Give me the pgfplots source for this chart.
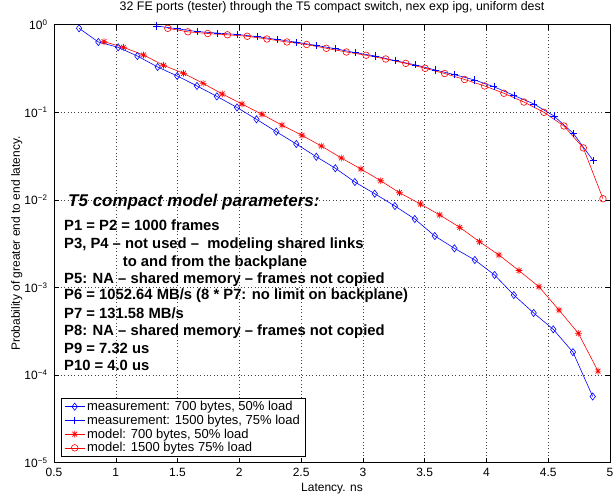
\documentclass[border=0pt]{standalone}
\usepackage{fontspec}
\setmainfont{Liberation Sans}
\setsansfont{Liberation Sans}
\usepackage{pgfplots}
\pgfplotsset{compat=1.18}
\pgfdeclareplotmark{mstar}{%
 \pgfpathmoveto{\pgfqpoint{-\pgfplotmarksize}{0pt}}\pgfpathlineto{\pgfqpoint{\pgfplotmarksize}{0pt}}%
 \pgfpathmoveto{\pgfqpoint{0pt}{-\pgfplotmarksize}}\pgfpathlineto{\pgfqpoint{0pt}{\pgfplotmarksize}}%
 \pgfpathmoveto{\pgfqpoint{-0.707\pgfplotmarksize}{-0.707\pgfplotmarksize}}\pgfpathlineto{\pgfqpoint{0.707\pgfplotmarksize}{0.707\pgfplotmarksize}}%
 \pgfpathmoveto{\pgfqpoint{-0.707\pgfplotmarksize}{0.707\pgfplotmarksize}}\pgfpathlineto{\pgfqpoint{0.707\pgfplotmarksize}{-0.707\pgfplotmarksize}}%
 \pgfusepathqstroke}
\begin{document}
\begin{tikzpicture}
\begin{axis}[
  at={(0pt,0pt)}, anchor=south west,
  scale only axis, width=556pt, height=438pt,
  xmin=0.5, xmax=5, ymin=1e-5, ymax=1,
  ymode=log, log basis y=10,
  xtick={0.5,1,1.5,2,2.5,3,3.5,4,4.5,5},
  xticklabels={0.5,1,1.5,2,2.5,3,3.5,4,4.5,5},
  ytick={1e-5,1e-4,1e-3,1e-2,1e-1,1},
  yticklabels={10\textsuperscript{−5},10\textsuperscript{−4},10\textsuperscript{−3},10\textsuperscript{−2},10\textsuperscript{−1},10\textsuperscript{0}},
  tick label style={font=\fontsize{12}{14}\selectfont},
  xticklabel style={yshift=-2pt},
  yticklabel style={xshift=-3pt},
  tick align=inside, major tick length=5pt, minor tick length=3pt,
  axis line style={line width=0.8pt},
  every tick/.style={black, line width=0.5pt},
  xmajorgrids, ymajorgrids, yminorgrids,
  major grid style={black!75, line width=0.5pt, dash pattern=on 0.8pt off 2.6pt},
  minor grid style={black!75, line width=0.5pt, dash pattern=on 0.8pt off 2.6pt},
  title={32 FE ports (tester) through the T5 compact switch, nex exp ipg, uniform dest},
  title style={font=\fontsize{12.4}{14}\selectfont, at={(axis description cs:0.5,1.027)}, anchor=center},
  xlabel={Latency. ns},
  xlabel style={font=\fontsize{12}{14}\selectfont, at={(axis description cs:0.5,-0.060)}, anchor=center},
  ylabel={Probability of greater end to end latency.},
  ylabel style={font=\fontsize{12}{14}\selectfont, at={(axis description cs:-0.067,0.5)}, anchor=center},
  legend cell align=left,
  legend style={at={(axis description cs:0.0126,0.0137)}, anchor=south west,
    font=\fontsize{13}{14}\selectfont, draw=black, line width=0.8pt, fill=white,
    inner xsep=3pt, inner ysep=1pt, row sep=-1.2pt,
    nodes={inner sep=2pt}},
  legend image code/.code={\draw[mark repeat=2,mark phase=2] plot coordinates {(0pt,0pt)(10pt,0pt)(20pt,0pt)};},
]
\addplot[blue, line width=0.6pt, mark=diamond, mark size=3.6pt, mark options={solid, line width=0.6pt}] coordinates {
(0.703,0.910)(0.859,0.635)(1.019,0.552)(1.175,0.439)(1.339,0.329)(1.497,0.260)(1.657,0.200)(1.818,0.152)(1.981,0.1135)(2.139,0.0832)(2.299,0.0601)(2.461,0.0435)(2.623,0.0311)(2.777,0.0230)(2.935,0.0160)(3.096,0.01177)(3.259,0.00851)(3.420,0.00605)(3.582,0.00387)(3.741,0.00280)(3.906,0.00206)(4.066,0.00139)(4.222,0.000820)(4.382,0.000512)(4.541,0.000333)(4.700,0.000183)(4.860,0.0000570)};
\addlegendentry{measurement: 700 bytes, 50\% load}
\addplot[blue, line width=0.6pt, mark=+, mark size=3.6pt, mark options={solid, line width=0.7pt}] coordinates {
(1.332,0.966)(1.500,0.898)(1.663,0.834)(1.825,0.802)(1.985,0.773)(2.145,0.731)(2.307,0.678)(2.465,0.631)(2.623,0.580)(2.777,0.532)(2.939,0.479)(3.101,0.439)(3.263,0.388)(3.425,0.348)(3.587,0.304)(3.741,0.269)(3.904,0.234)(4.060,0.196)(4.222,0.156)(4.384,0.1245)(4.546,0.0908)(4.703,0.0575)(4.865,0.0280)};
\addlegendentry{measurement: 1500 bytes, 75\% load}
\addplot[red, line width=0.6pt, mark=mstar, mark size=3.4pt, mark options={solid, line width=0.7pt}] coordinates {
(0.905,0.640)(1.062,0.552)(1.224,0.451)(1.386,0.344)(1.548,0.279)(1.707,0.214)(1.861,0.162)(2.021,0.1245)(2.183,0.0948)(2.345,0.0714)(2.507,0.0546)(2.664,0.0412)(2.826,0.0301)(2.984,0.0225)(3.144,0.01656)(3.296,0.01208)(3.466,0.00897)(3.622,0.00673)(3.784,0.00486)(3.944,0.00333)(4.101,0.00235)(4.263,0.00156)(4.425,0.00102)(4.587,0.000553)(4.744,0.000300)(4.903,0.000111)};
\addlegendentry{model: 700 bytes, 50\% load}
\addplot[red, line width=0.6pt, mark=o, mark size=3.3pt, mark options={solid, line width=0.6pt}] coordinates {
(1.421,0.910)(1.583,0.830)(1.744,0.794)(1.904,0.767)(2.064,0.738)(2.224,0.687)(2.386,0.635)(2.545,0.594)(2.704,0.538)(2.866,0.488)(3.026,0.448)(3.185,0.406)(3.347,0.362)(3.504,0.318)(3.662,0.277)(3.823,0.237)(3.985,0.200)(4.141,0.165)(4.303,0.131)(4.465,0.100)(4.627,0.0698)(4.784,0.0392)(4.943,0.01032)};
\addlegendentry{model: 1500 bytes 75\% load}
\node[anchor=base west, inner sep=0pt, font=\fontsize{17}{19}\selectfont\bfseries\itshape] at (rel axis cs:0.0252,0.5845) {T5 compact model parameters:};
\begin{scope}[every node/.style={anchor=base west, inner sep=0pt, font=\fontsize{14.8}{17}\selectfont\bfseries}]
\node at (rel axis cs:0.018,0.5297) {P1 = P2 = 1000 frames};
\node at (rel axis cs:0.018,0.4895) {P3, P4 – not used –\ \ modeling shared links};
\node at (rel axis cs:0.1236,0.4491) {to and from the backplane};
\node at (rel axis cs:0.018,0.4096) {P5: NA – shared memory – frames not copied};
\node at (rel axis cs:0.018,0.3715) {P6 = 1052.64 MB/s (8 * P7: no limit on backplane)};
\node at (rel axis cs:0.018,0.3297) {P7 = 131.58 MB/s};
\node at (rel axis cs:0.018,0.2900) {P8: NA – shared memory – frames not copied};
\node at (rel axis cs:0.018,0.2482) {P9 = 7.32 us};
\node at (rel axis cs:0.018,0.2100) {P10 = 4.0 us};
\end{scope}
\node[anchor=east, inner sep=0pt, font=\fontsize{12}{13}\selectfont] at (rel axis cs:1.004,-0.068) {x 10\textsuperscript{5}};
\end{axis}
\pgfresetboundingbox
\path[use as bounding box] (-54pt,-38.3pt) rectangle (562pt,462.7pt);
\end{tikzpicture}
\end{document}
